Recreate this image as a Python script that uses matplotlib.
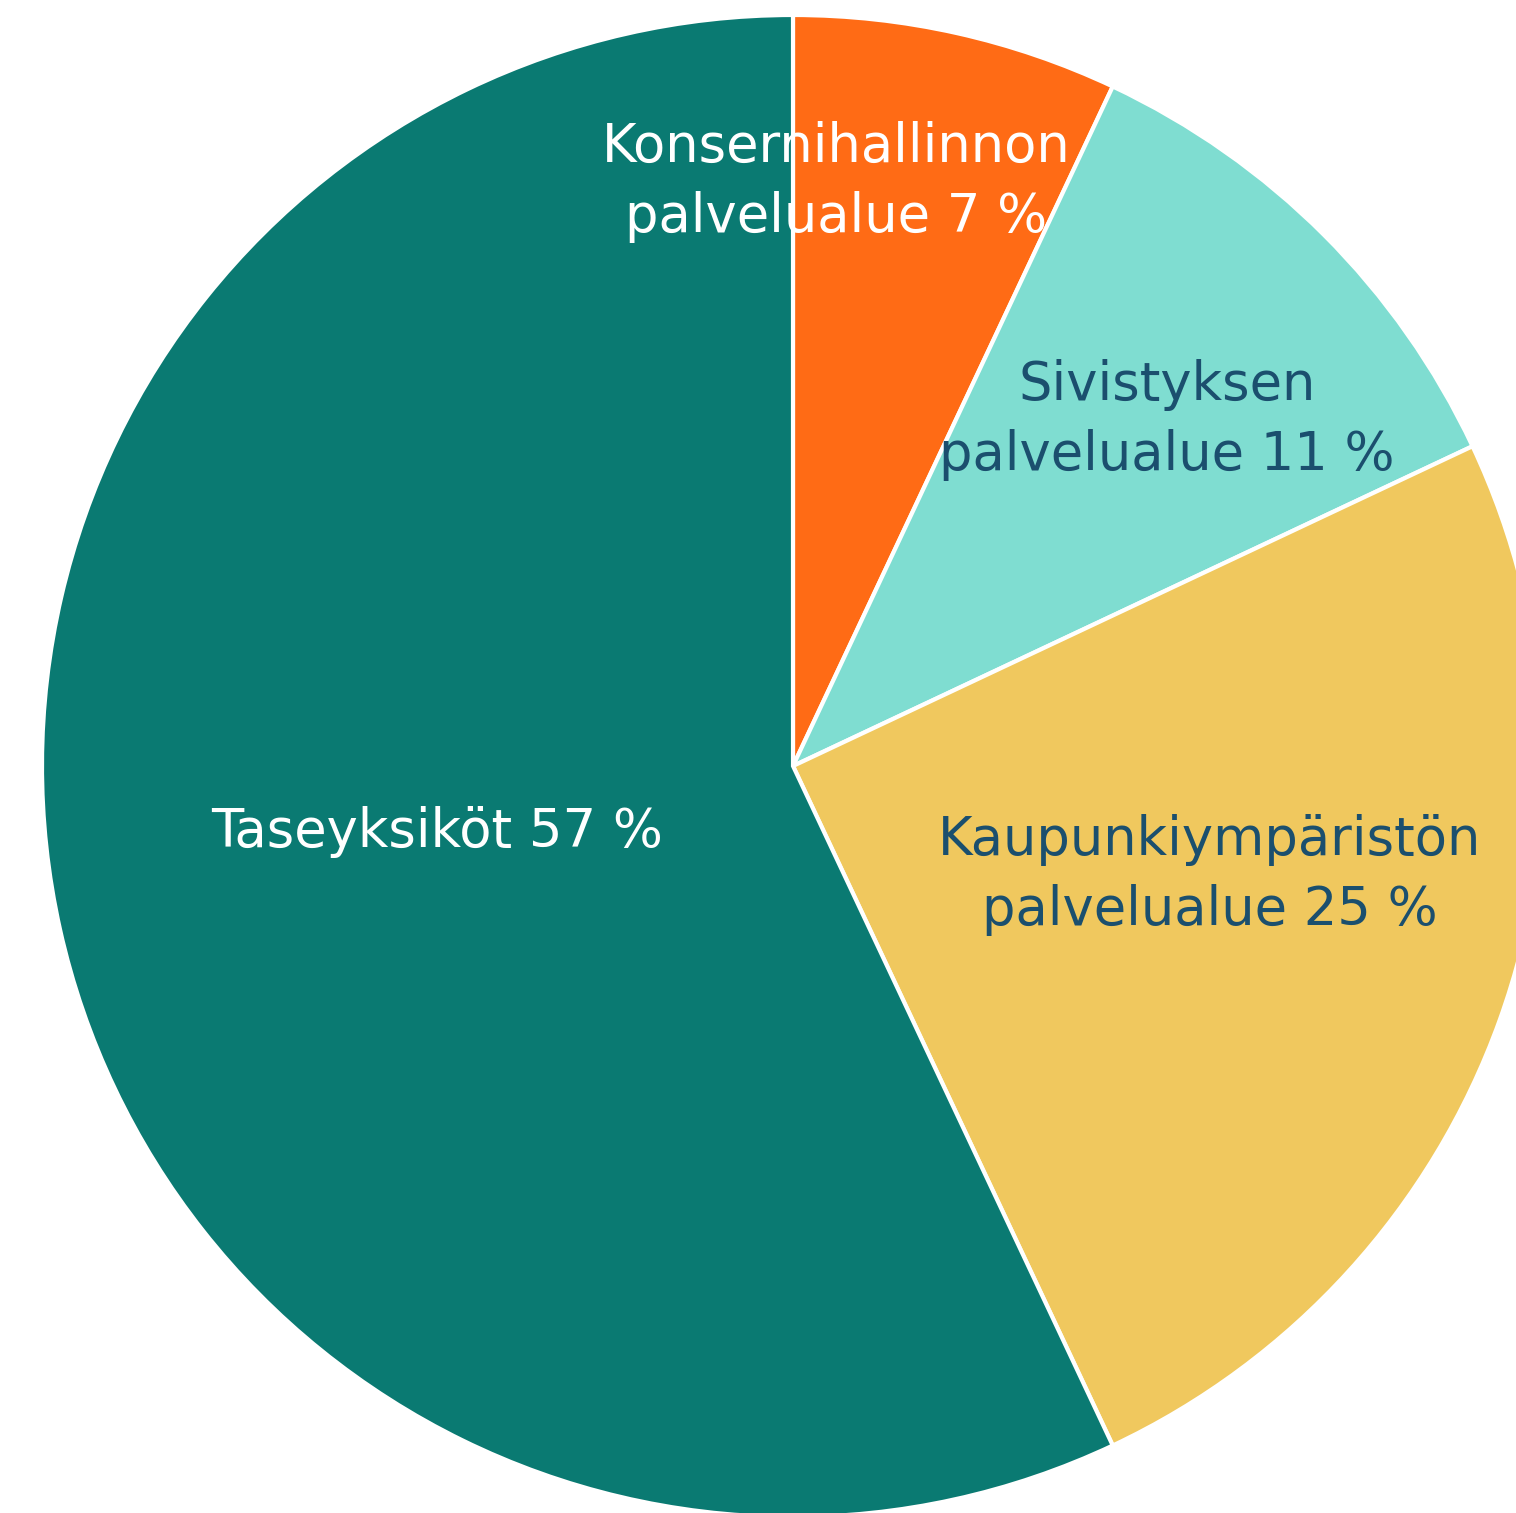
import matplotlib
matplotlib.use("Agg")
from matplotlib import pyplot as plt

# share of each service area (clockwise from 12 o'clock)
labels = ['Konsernihallinnon\npalvelualue 7 %', 'Sivistyksen\npalvelualue 11 %',
          'Kaupunkiympäristön\npalvelualue 25 %', 'Taseyksiköt 57 %']
shares = [7, 11, 25, 57]
colors = ['#FF6B15', '#7FDDD1', '#F0C85E', '#0A7A72']
text_colors = ['white', '#1B4F6E', '#1B4F6E', 'white']

# label anchor points in pixel space (x, y from top)
label_xy = [(836, 182), (1167, 420), (1210, 875), (437, 832)]

W, H = 1516, 1513
fig = plt.figure(figsize=(W / 100, H / 100), dpi=100)
ax = fig.add_axes([0, 0, 1, 1])

cx, cy, r = 793, H - 766, 751
ax.pie(shares, colors=colors, startangle=90, counterclock=False,
       center=(cx, cy), radius=r, frame=True,
       wedgeprops=dict(edgecolor='white', linewidth=3))
ax.set_xlim(0, W)
ax.set_ylim(0, H)
ax.set_aspect('auto')
ax.axis('off')

for lab, (x, y), c in zip(labels, label_xy, text_colors):
    ax.text(x, H - y, lab, ha='center', va='center', color=c,
            fontsize=38, linespacing=1.45)

fig.savefig('out.png', dpi=100)
